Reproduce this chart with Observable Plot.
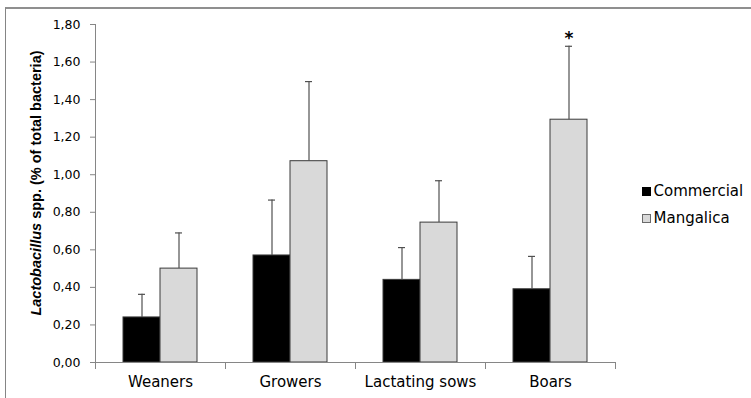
<!DOCTYPE html>
<html>
<head>
<meta charset="utf-8">
<script src="https://cdn.jsdelivr.net/npm/d3@7"></script>
<script src="https://cdn.jsdelivr.net/npm/@observablehq/plot@0.6"></script>
<style>
  html, body { margin: 0; padding: 0; background: #fff; }
  #wrap { position: relative; width: 751px; height: 398px; overflow: hidden; background: #fff; }
  #border { position: absolute; left: 5px; top: 7px; width: 900px; height: 600px;
            border-left: 1px solid #858585; border-top: 2px solid #8f8f8f; }
  #chart { position: absolute; left: 0; top: 0; }
  #ylabel { position: absolute; left: 36px; top: 182.5px; transform: translate(-50%, -50%) rotate(-90deg);
            white-space: nowrap; font-family: "Liberation Sans", Arial, sans-serif; font-weight: bold;
            font-size: 14.5px; line-height: normal; color: #000; }
  #legend { position: absolute; left: 642px; top: 177.6px; font-family: "DejaVu Sans", sans-serif;
            font-size: 15px; color: #000; }
  .row { line-height: 27px; white-space: nowrap; }
  .sw { display: inline-block; width: 9px; height: 9px; box-sizing: border-box; margin-right: 2.5px; }
</style>
</head>
<body>
<div id="wrap">
  <div id="border"></div>
  <div id="chart"></div>
  <div id="ylabel"><i>Lactobacillus</i> spp. (% of total bacteria)</div>
  <div id="legend"></div>
</div>
<script>
const categories = ["Weaners", "Growers", "Lactating sows", "Boars"];
const series = ["Commercial", "Mangalica"];
const commercial = [0.24, 0.57, 0.44, 0.39];
const commercialErr = [0.123, 0.295, 0.172, 0.175];
const mangalica = [0.50, 1.072, 0.745, 1.293];
const mangalicaErr = [0.19, 0.424, 0.223, 0.391];
const mangalicaSig = ["", "", "", "*"];
const commercialSig = ["", "", "", ""];
const yTicks = [0, 0.2, 0.4, 0.6, 0.8, 1.0, 1.2, 1.4, 1.6, 1.8];
const seriesColors = ["#000000", "#d9d9d9"];

const rows = [];
categories.forEach((c, i) => {
  rows.push({category: c, series: series[0], value: commercial[i], upper: commercial[i] + commercialErr[i], sig: commercialSig[i]});
  rows.push({category: c, series: series[1], value: mangalica[i], upper: mangalica[i] + mangalicaErr[i], sig: mangalicaSig[i]});
});

const W = 751, H = 398, mT = 24, mB = 36, mL = 95, mR = 136;
const innerH = H - mT - mB;
const axisGrey = "#868686";

const chart = Plot.plot({
  width: W, height: H,
  marginLeft: mL, marginRight: mR, marginTop: mT, marginBottom: mB,
  style: {fontFamily: "DejaVu Sans, sans-serif", background: "transparent", overflow: "visible", color: "#000"},
  fx: {domain: categories, paddingInner: 0, paddingOuter: 0, label: null},
  x: {domain: series, paddingInner: 0, paddingOuter: 0.74, axis: null},
  y: {domain: [0, 1.8], label: null},
  color: {domain: series, range: seriesColors},
  marks: [
    Plot.barY(rows, {fx: "category", x: "series", y: "value", fill: "series", stroke: "#3a3a3a", strokeWidth: 1}),
    Plot.ruleX(rows, {fx: "category", x: "series", y1: "value", y2: "upper", stroke: "#505050", strokeWidth: 1.2}),
    Plot.tickY(rows, {fx: "category", x: "series", y: "upper", stroke: "#505050", strokeWidth: 1.2, insetLeft: 15, insetRight: 15}),
    Plot.text(rows.filter(d => d.sig), {fx: "category", x: "series", y: "upper", text: "sig", dy: -8, fontSize: 17, fontWeight: "bold", fill: "#000"}),
    Plot.ruleY([0], {stroke: axisGrey}),
    Plot.frame({anchor: "left", facetAnchor: "left", stroke: axisGrey}),
    Plot.frame({anchor: "left", stroke: axisGrey, insetTop: innerH, insetBottom: -6}),
    Plot.frame({anchor: "right", stroke: axisGrey, insetTop: innerH, insetBottom: -6}),
    Plot.axisY({ticks: yTicks, tickSize: 5, tickPadding: 10, fontSize: 12.5, stroke: axisGrey, fill: "#000",
      tickFormat: d => d.toFixed(2).replace(".", ","), label: null}),
    Plot.axisFx({anchor: "bottom", tickSize: 0, tickPadding: 14, fontSize: 15, fill: "#000", label: null})
  ]
});
document.getElementById("chart").appendChild(chart);

const legend = document.getElementById("legend");
series.forEach((s, i) => {
  const row = document.createElement("div");
  row.className = "row";
  const sw = document.createElement("span");
  sw.className = "sw";
  sw.style.background = seriesColors[i];
  sw.style.border = i === 0 ? "1px solid #000" : "1px solid #6a6a6a";
  row.appendChild(sw);
  row.appendChild(document.createTextNode(s));
  legend.appendChild(row);
});
</script>
</body>
</html>
